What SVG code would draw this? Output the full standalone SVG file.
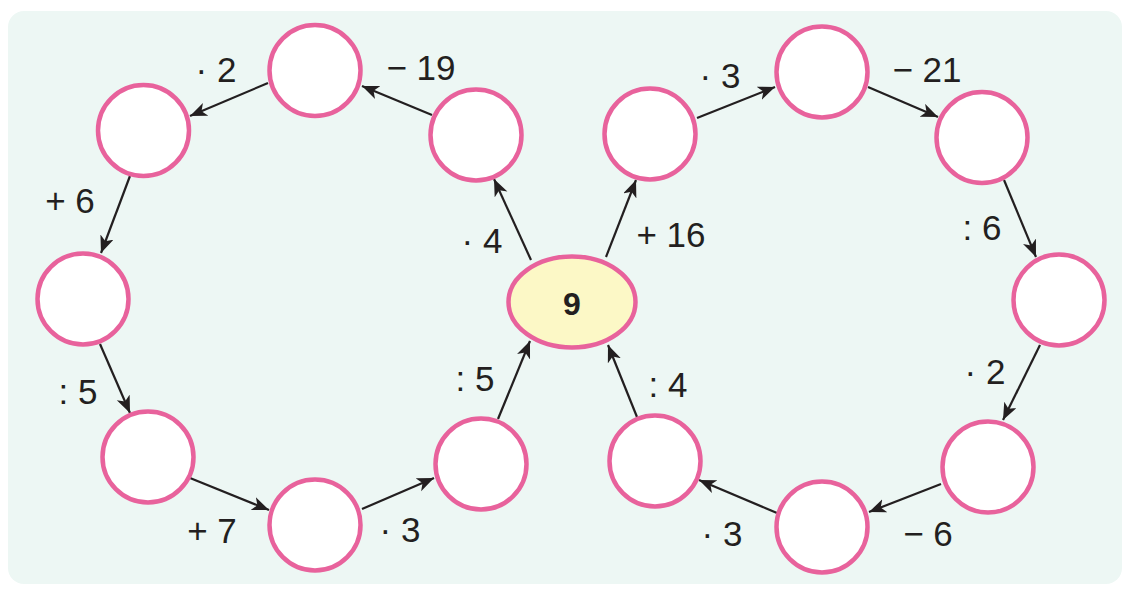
<svg xmlns="http://www.w3.org/2000/svg" width="1129" height="592" viewBox="0 0 1129 592">
  <style>
    .node { fill: #ffffff; stroke: #e8629c; stroke-width: 4.5; }
    .start { fill: #fcf8c6; stroke: #e8629c; stroke-width: 4.5; }
    .edge { stroke: #231f20; stroke-width: 2.2; fill: none; marker-end: url(#arrow); }
    .lbl { font-family: "Liberation Sans", Arial, sans-serif; font-size: 35px; fill: #231f20; text-anchor: middle; }
    .num { font-family: "Liberation Sans", Arial, sans-serif; font-size: 32px; font-weight: bold; fill: #231f20; text-anchor: middle; }
  </style>
  <defs>
    <marker id="arrow" markerUnits="userSpaceOnUse" markerWidth="19" markerHeight="15" refX="17" refY="7" orient="auto" viewBox="0 0 19 15">
      <path d="M0,0 L17,7 L0,14 L4.5,7 Z" fill="#231f20"/>
    </marker>
  </defs>
  <rect x="0" y="0" width="1129" height="592" fill="#ffffff"/>
  <rect x="8" y="11" width="1114" height="573" rx="16" fill="#edf7f4"/>

  <g id="connectors">
    <line class="edge" x1="531" y1="260" x2="494" y2="179"/>
    <line class="edge" x1="432" y1="115" x2="362" y2="86"/>
    <line class="edge" x1="268" y1="83" x2="190" y2="116"/>
    <line class="edge" x1="130" y1="176" x2="101" y2="253"/>
    <line class="edge" x1="100" y1="344" x2="130" y2="413"/>
    <line class="edge" x1="190" y1="478" x2="269" y2="510"/>
    <line class="edge" x1="362" y1="509" x2="434" y2="478"/>
    <line class="edge" x1="498" y1="419" x2="530" y2="341"/>
    <line class="edge" x1="637" y1="417" x2="608" y2="345"/>
    <line class="edge" x1="777" y1="513" x2="699" y2="480"/>
    <line class="edge" x1="941" y1="484" x2="869" y2="512"/>
    <line class="edge" x1="1040" y1="345" x2="1003" y2="420"/>
    <line class="edge" x1="1004" y1="180" x2="1036" y2="257"/>
    <line class="edge" x1="868" y1="87" x2="938" y2="117"/>
    <line class="edge" x1="697" y1="118" x2="775" y2="87"/>
    <line class="edge" x1="606" y1="257" x2="636" y2="180"/>
  </g>

  <g id="labels">
    <text class="lbl" x="216" y="82">· 2</text>
    <text class="lbl" x="421" y="80">− 19</text>
    <text class="lbl" x="70" y="213">+ 6</text>
    <text class="lbl" x="78" y="404">: 5</text>
    <text class="lbl" x="212" y="543">+ 7</text>
    <text class="lbl" x="400" y="542">· 3</text>
    <text class="lbl" x="475" y="391">: 5</text>
    <text class="lbl" x="482" y="253">· 4</text>
    <text class="lbl" x="671" y="247">+ 16</text>
    <text class="lbl" x="668" y="397">: 4</text>
    <text class="lbl" x="720" y="88">· 3</text>
    <text class="lbl" x="927" y="82">− 21</text>
    <text class="lbl" x="982" y="240">: 6</text>
    <text class="lbl" x="985" y="384">· 2</text>
    <text class="lbl" x="928" y="546">− 6</text>
    <text class="lbl" x="722" y="546">· 3</text>
  </g>

  <g id="n-center"><ellipse class="start" cx="572" cy="302" rx="63.5" ry="45.5"/><text class="num" x="572" y="315">9</text></g>
  <g id="n1"><circle class="node" cx="476" cy="135" r="45.5"/></g>
  <g id="n2"><circle class="node" cx="315" cy="70.5" r="45.5"/></g>
  <g id="n3"><circle class="node" cx="143.5" cy="130.5" r="45.5"/></g>
  <g id="n4"><circle class="node" cx="83" cy="299" r="45.5"/></g>
  <g id="n5"><circle class="node" cx="148" cy="457" r="45.5"/></g>
  <g id="n6"><circle class="node" cx="315" cy="525" r="45.5"/></g>
  <g id="n7"><circle class="node" cx="481" cy="464" r="45.5"/></g>
  <g id="n8"><circle class="node" cx="650" cy="134" r="45.5"/></g>
  <g id="n9"><circle class="node" cx="822" cy="72" r="45.5"/></g>
  <g id="n10"><circle class="node" cx="982" cy="137.5" r="45.5"/></g>
  <g id="n11"><circle class="node" cx="1059" cy="300" r="45.5"/></g>
  <g id="n12"><circle class="node" cx="988" cy="467" r="45.5"/></g>
  <g id="n13"><circle class="node" cx="822" cy="527" r="45.5"/></g>
  <g id="n14"><circle class="node" cx="655" cy="461" r="45.5"/></g>
</svg>
